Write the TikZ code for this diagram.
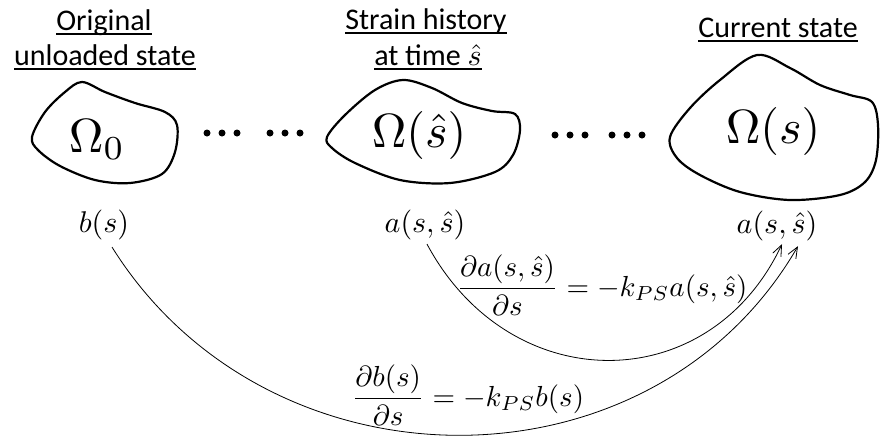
\documentclass[tikz,border=0pt]{standalone}
\usepackage[no-math]{fontspec}
\setmainfont{Carlito}
\usetikzlibrary{arrows.meta,calc}
\newcommand\ulbox[1]{\setbox0=\hbox{#1}\rlap{\copy0}\rule[-1.5pt]{\wd0}{0.55pt}}
\begin{document}
\begin{tikzpicture}[x=1pt,y=-1pt,
  head/.style={font=\fontsize{10}{12}\selectfont, scale=3.0, anchor=base, inner sep=0pt},
  blobline/.style={line width=2.2pt, line join=round},
  omega/.style={font=\fontsize{10}{12}\selectfont, scale=4.8, anchor=base, inner sep=0pt},
  lab/.style={font=\fontsize{10}{12}\selectfont, scale=3.0, anchor=base, inner sep=0pt},
  eqn/.style={font=\fontsize{10}{12}\selectfont, scale=2.9, anchor=base, inner sep=0pt},
  dotnode/.style={circle, fill=black, inner sep=0pt, minimum size=7pt},
  arcline/.style={line width=0.8pt, -{Straight Barb[length=11pt,width=9pt]}}]
\useasboundingbox (0,0) rectangle (880,445);
% headers
\node[head] (h1a) at (104,30) {\ulbox{Original}};
\node[head] (h1b) at (105,65) {\ulbox{unloaded state}};
\node[head] (h2a) at (426,29) {\ulbox{Strain history}};
\node[head] (h2b) at (428,65) {\ulbox{at time $\hat{s}$}};
\node[head] (h3) at (778,37) {\ulbox{Current state}};
% blobs
\draw[blobline] plot[smooth cycle, tension=0.55] coordinates {(32,137) (45,112) (65,92) (82,82) (105,92) (135,103) (165,112) (177,125) (175,152) (162,174) (130,183) (95,180) (60,166) (38,150)};
\draw[blobline] plot[smooth cycle, tension=0.55] coordinates {(327,137) (345,115) (375,90) (403,80) (432,88) (462,103) (492,111) (515,114) (520,130) (513,155) (495,172) (450,183) (400,180) (355,163) (332,148)};
\draw[blobline] plot[smooth cycle, tension=0.55] coordinates {(670,137) (690,108) (720,80) (757,55) (790,68) (820,85) (850,95) (872,102) (878,125) (876,160) (865,182) (840,195) (790,200) (740,192) (700,175) (677,158)};
\node[omega] (o1) at (97,152) {$\Omega_0$};
\node[omega] (o2) at (419,147) {$\Omega(\hat{s})$};
\node[omega] (o3) at (773,143) {$\Omega(s)$};
% dots
\foreach \x [count=\i] in {207,222,237,270,285,300} \node[dotnode] (d\i) at (\x,133) {};
\foreach \x [count=\i] in {555,570,585,612,627,642} \node[dotnode] (e\i) at (\x,135) {};
% labels
\node[lab] (b) at (104,232) {$b(s)$};
\node[lab] (amid) at (425,232) {$a(s,\hat{s})$};
\node[lab] (aright) at (777,233) {$a(s,\hat{s})$};
\node[eqn] (eqa) at (602,296) {$\displaystyle\frac{\partial a(s,\hat{s})}{\partial s}=-k_{PS}a(s,\hat{s})$};
\node[eqn] (eqb) at (468,406) {$\displaystyle\frac{\partial b(s)}{\partial s}=-k_{PS}b(s)$};
% arcs
\draw[arcline] ($(amid.south)+(2,4)$) .. controls (510,399) and (709,399) .. ($(aright.south)+(5,3)$);
\draw[arcline] ($(b.south)+(8,7)$) .. controls (269,498) and (652,498) .. ($(aright.south)+(21,5)$);
\end{tikzpicture}
\end{document}
